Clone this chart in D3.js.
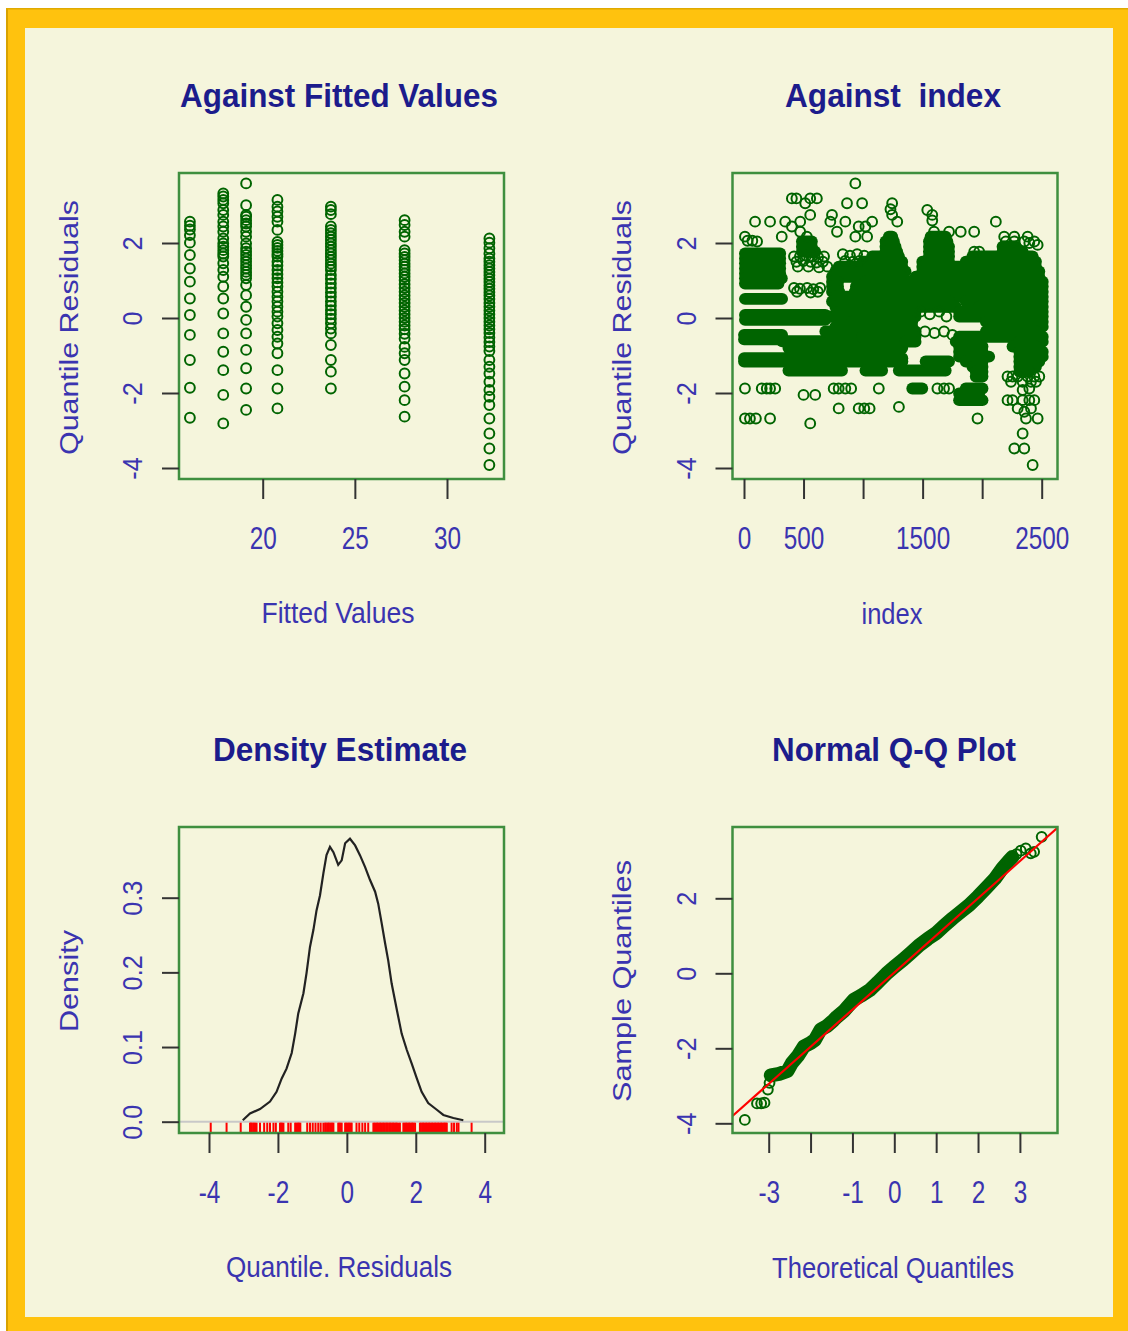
<!DOCTYPE html>
<html>
<head>
<meta charset="utf-8">
<script src="https://cdn.jsdelivr.net/npm/d3@7"></script>
<style>
  html, body { margin: 0; padding: 0; background: #ffffff; }
  svg { display: block; }
  text { white-space: pre; }
</style>
</head>
<body>
<svg id="chart" width="1128" height="1331"></svg>
<script>
// ---------- Residuals against fitted values (one column per fitted level) ----------
const fittedLevels = [16.05, 17.86, 19.1, 20.8, 23.7, 27.7, 32.3];
const residualsByLevel = [
  [2.57, 2.46, 2.36, 2.21, 2.01, 1.68, 1.32, 0.97, 0.52, 0.08, -0.45, -1.12, -1.86, -2.66],
  [3.32, 3.24, 3.15, 3.06, 2.88, 2.75, 2.57, 2.44, 2.30, 2.12, 1.99, 1.90, 1.81, 1.72, 1.64, 1.46, 1.28, 1.10, 0.84, 0.52, 0.12, -0.41, -0.90, -1.39, -2.05, -2.81],
  [3.59, 3.01, 2.75, 2.70, 2.61, 2.52, 2.44, 2.30, 2.17, 1.99, 1.86, 1.77, 1.68, 1.59, 1.50, 1.41, 1.32, 1.23, 1.15, 1.06, 0.88, 0.61, 0.30, -0.05, -0.41, -0.85, -1.34, -1.88, -2.45],
  [3.15, 2.97, 2.84, 2.70, 2.57, 2.35, 2.03, 1.95, 1.87, 1.79, 1.71, 1.64, 1.50, 1.40, 1.28, 1.17, 1.06, 0.95, 0.84, 0.70, 0.57, 0.44, 0.30, 0.17, 0.04, -0.14, -0.32, -0.50, -0.68, -0.94, -1.39, -1.88, -2.41],
  [2.97, 2.88, 2.77, 2.44, 2.35, 2.26, 2.17, 2.08, 1.99, 1.90, 1.81, 1.72, 1.63, 1.54, 1.45, 1.37, 1.28, 1.15, 1.04, 0.92, 0.80, 0.68, 0.57, 0.44, 0.33, 0.21, 0.10, -0.02, -0.14, -0.28, -0.41, -0.72, -1.12, -1.43, -1.88],
  [2.61, 2.48, 2.30, 2.17, 1.81, 1.72, 1.63, 1.54, 1.45, 1.37, 1.28, 1.19, 1.10, 1.01, 0.90, 0.80, 0.70, 0.60, 0.50, 0.40, 0.30, 0.20, 0.10, 0.00, -0.10, -0.20, -0.30, -0.42, -0.55, -0.77, -0.94, -1.12, -1.48, -1.83, -2.19, -2.63],
  [2.12, 2.01, 1.86, 1.72, 1.59, 1.50, 1.41, 1.32, 1.23, 1.14, 1.05, 0.96, 0.87, 0.78, 0.69, 0.60, 0.51, 0.40, 0.30, 0.20, 0.10, 0.00, -0.10, -0.20, -0.30, -0.40, -0.52, -0.64, -0.76, -0.88, -1.12, -1.30, -1.48, -1.70, -1.92, -2.10, -2.32, -2.68, -3.08, -3.48, -3.92]
];
const fittedTicks = [20, 25, 30];
const residTicks = [-4, -2, 0, 2];
const residTickLabels = ["-4", "-2", "0", "2"];

// ---------- Residuals against observation index ----------
// runs of consecutive observations sharing one residual value: [firstIndex, lastIndex, residual]
const indexRuns = [
  [8, 304, 1.72], [8, 304, 1.59], [8, 304, 1.46], [8, 304, 1.32], [8, 304, 1.19], [8, 318, 1.06], [8, 290, 0.92],
  [8, 320, 0.51],
  [8, 683, 0.08], [8, 683, -0.05],
  [0, 320, -0.45], [0, 320, -0.57], [320, 990, -0.62],
  [373, 1329, -0.80],
  [0, 1330, -1.07], [0, 1330, -1.16],
  [373, 823, -1.40], [1020, 1160, -1.40], [1300, 1694, -1.40],
  [486, 570, 2.04], [486, 570, 1.90], [486, 598, 1.77],
  [1216, 1245, 2.17], [1567, 1694, 2.17],
  [1188, 1259, 2.04], [1553, 1708, 2.04],
  [1188, 1273, 1.90], [1553, 1722, 1.90], [2171, 2284, 1.90],
  [1188, 1287, 1.77], [1553, 1722, 1.77], [2171, 2340, 1.77],
  [1076, 1301, 1.64], [1553, 1722, 1.64], [1918, 2424, 1.64],
  [1000, 1329, 1.50], [1497, 1722, 1.50], [1862, 2452, 1.50],
  [795, 1329, 1.37], [1497, 2452, 1.37],
  [767, 1357, 1.24], [1497, 2480, 1.24],
  [739, 1329, 1.10], [1441, 2480, 1.10],
  [739, 790, 0.97], [1020, 2509, 0.97],
  [739, 790, 0.84], [940, 2509, 0.84],
  [739, 800, 0.70], [930, 2509, 0.70],
  [767, 2509, 0.57],
  [739, 1722, 0.44], [1862, 2509, 0.44],
  [767, 1778, 0.30], [1975, 2509, 0.30],
  [795, 1441, 0.17], [1806, 2509, 0.17],
  [683, 1441, 0.04], [1806, 2509, 0.04],
  [907, 1413, -0.10], [2031, 2509, -0.10],
  [767, 1413, -0.23], [2087, 2509, -0.23],
  [683, 1441, -0.36], [2031, 2452, -0.36],
  [990, 1441, -0.50], [1806, 2509, -0.50],
  [1357, 1441, -0.63], [1778, 1947, -0.63], [2312, 2509, -0.63],
  [1806, 2003, -0.76], [2255, 2452, -0.76],
  [1806, 2003, -0.90], [2312, 2509, -0.90],
  [1806, 2059, -1.03], [2312, 2509, -1.03],
  [1525, 1722, -1.16], [1862, 2003, -1.16], [2312, 2480, -1.16],
  [1918, 2003, -1.30], [2312, 2452, -1.30],
  [1946, 2003, -1.43], [2312, 2396, -1.43],
  [1946, 2003, -1.56],
  [1413, 1497, -1.88], [1862, 2003, -1.88],
  [1806, 1975, -2.01],
  [1806, 2003, -2.19]
];
// isolated observations: [index, residual]
const indexPoints = [
  [935, 3.59], [402, 3.19], [440, 3.19], [556, 3.19], [612, 3.19], [514, 3.06], [865, 3.06], [992, 3.06], [1244, 3.06],
  [1230, 2.90], [1539, 2.88], [556, 2.75], [739, 2.75], [1244, 2.75], [1581, 2.75],
  [93, 2.57], [219, 2.57], [346, 2.57], [472, 2.57], [725, 2.57], [851, 2.57], [1076, 2.57], [1287, 2.57], [1581, 2.60], [2115, 2.57],
  [402, 2.44], [963, 2.44], [1020, 2.44], [472, 2.30], [781, 2.30], [1596, 2.30], [1722, 2.30], [1820, 2.30], [1933, 2.30],
  [8, 2.17], [317, 2.17], [528, 2.17], [935, 2.17], [1034, 2.17], [2185, 2.17], [2270, 2.17], [2382, 2.17],
  [30, 2.06], [70, 2.06], [110, 2.04], [2199, 2.04], [2270, 2.04], [2354, 2.04], [2396, 2.00], [2438, 2.04], [2466, 1.95],
  [1933, 1.77], [1975, 1.77],
  [420, 1.64], [470, 1.64], [522, 1.66], [575, 1.64], [622, 1.62], [672, 1.64], [830, 1.70], [890, 1.66], [950, 1.70], [1010, 1.66],
  [440, 1.50], [498, 1.52], [560, 1.50], [610, 1.48], [662, 1.50], [850, 1.52], [915, 1.50], [970, 1.52],
  [452, 1.37], [540, 1.37], [630, 1.35], [700, 1.37],
  [420, 0.80], [470, 0.78], [530, 0.80], [582, 0.77], [640, 0.80], [445, 0.70], [560, 0.68], [620, 0.70],
  [1483, 0.17], [1560, 0.10], [1640, 0.17], [1700, 0.04], [1520, -0.36], [1600, -0.40], [1680, -0.36], [1750, -0.45],
  [8, -1.88], [149, -1.88], [191, -1.88], [219, -1.88], [262, -1.88], [753, -1.88], [795, -1.88], [851, -1.88], [900, -1.88],
  [1132, -1.88], [1624, -1.88], [1680, -1.88], [1722, -1.88], [2340, -1.92], [2396, -1.88],
  [500, -2.05], [598, -2.05], [795, -2.41], [963, -2.41], [1010, -2.41], [1055, -2.41], [1301, -2.37],
  [8, -2.68], [50, -2.68], [100, -2.68], [219, -2.68], [556, -2.81], [1961, -2.68],
  [2213, -2.19], [2255, -2.19], [2340, -2.19], [2396, -2.19], [2438, -2.19],
  [2298, -2.41], [2354, -2.50], [2410, -2.41], [2466, -2.68], [2368, -2.68], [2340, -3.08], [2270, -3.48], [2354, -3.48], [2424, -3.92],
  [2213, -1.56], [2255, -1.56], [2298, -1.56], [2382, -1.56], [2438, -1.56], [2480, -1.56],
  [2242, -1.70], [2340, -1.70], [2410, -1.70], [2452, -1.70]
];
const indexTicks = [0, 500, 1000, 1500, 2000, 2500];
const indexTickLabels = ["0", "500", "", "1500", "", "2500"];

// ---------- Density estimate of the residuals ----------
const densityX = [-3.02, -2.81, -2.52, -2.23, -2.04, -1.89, -1.75, -1.60, -1.50, -1.41, -1.26, -1.17, -1.07, -0.97, -0.88, -0.78, -0.68, -0.59, -0.49, -0.39, -0.25, -0.15, -0.05, 0.09, 0.24, 0.38, 0.53, 0.67, 0.82, 0.91, 1.01, 1.11, 1.20, 1.30, 1.45, 1.59, 1.74, 1.88, 2.03, 2.17, 2.36, 2.61, 2.80, 3.09, 3.38];
const densityY = [0.002, 0.011, 0.017, 0.027, 0.040, 0.058, 0.071, 0.092, 0.118, 0.145, 0.172, 0.199, 0.234, 0.257, 0.283, 0.303, 0.333, 0.357, 0.368, 0.361, 0.344, 0.350, 0.373, 0.379, 0.370, 0.357, 0.341, 0.324, 0.308, 0.292, 0.266, 0.239, 0.216, 0.185, 0.150, 0.118, 0.096, 0.078, 0.058, 0.040, 0.025, 0.016, 0.009, 0.005, 0.002];
const rugValues = [
  -3.95, -3.49, -3.08, -2.81, -2.78, -2.76, -2.72, -2.69, -2.66, -2.62, -2.52, -2.40, -2.31, -2.23, -2.13, -2.06,
  -1.94, -1.91, -1.88, -1.84, -1.70, -1.63, -1.50, -1.47, -1.43, -1.41, -1.38, -1.35,
  -1.15, -1.07, -0.99, -0.91, -0.83, -0.76, -0.68, -0.63, -0.61, -0.57, -0.54, -0.52, -0.48, -0.45, -0.42, -0.39,
  -0.25, -0.22, -0.19, -0.15, -0.05, -0.02, 0.01, 0.05, 0.07, 0.11, 0.14, 0.28, 0.36, 0.45, 0.53, 0.62,
  0.77, 0.80, 0.83, 0.87, 0.89, 0.92, 0.96, 0.98, 1.01, 1.05, 1.07, 1.10, 1.14, 1.16, 1.19, 1.23, 1.25, 1.28, 1.32, 1.34, 1.37, 1.41, 1.43, 1.46, 1.50, 1.54,
  1.64, 1.67, 1.71, 1.73, 1.76, 1.80, 1.82, 1.85, 1.89, 1.91, 1.94, 1.98,
  2.12, 2.15, 2.19, 2.21, 2.24, 2.28, 2.30, 2.33, 2.37, 2.39, 2.42, 2.46, 2.48, 2.51, 2.55, 2.57, 2.60, 2.64, 2.66, 2.69, 2.73, 2.75, 2.78, 2.82, 2.84, 2.87, 2.90,
  3.04, 3.11, 3.19, 3.24, 3.62
];
const densityXTicks = [-4, -2, 0, 2, 4];
const densityXTickLabels = ["-4", "-2", "0", "2", "4"];
const densityYTicks = [0, 0.1, 0.2, 0.3];
const densityYTickLabels = ["0.0", "0.1", "0.2", "0.3"];

// ---------- Normal Q-Q plot ----------
// bulk of the ordered residuals: [theoretical quantile, sample quantile]
const qqBulk = [
  [-2.95, -2.72], [-2.75, -2.68], [-2.55, -2.60], [-2.45, -2.40], [-2.30, -2.20], [-2.16, -1.95], [-2.00, -1.86], [-1.90, -1.78],
  [-1.76, -1.50], [-1.60, -1.40], [-1.45, -1.25], [-1.37, -1.16], [-1.20, -1.00], [-0.97, -0.71], [-0.80, -0.60], [-0.58, -0.44],
  [-0.40, -0.25], [-0.18, 0.00], [0.00, 0.17], [0.21, 0.36], [0.40, 0.55], [0.61, 0.76], [0.80, 0.92], [1.00, 1.07], [1.20, 1.28],
  [1.40, 1.47], [1.60, 1.65], [1.79, 1.82], [2.00, 2.05], [2.19, 2.27], [2.40, 2.52], [2.58, 2.80], [2.72, 2.98], [2.82, 3.10]
];
// sparse extremes: [theoretical quantile, sample quantile]
const qqTails = [
  [-3.57, -3.91], [-3.28, -3.47], [-3.18, -3.47], [-3.10, -3.45], [-3.02, -3.10], [-2.98, -2.92],
  [2.92, 3.18], [3.02, 3.27], [3.14, 3.33], [3.26, 3.20], [3.34, 3.24], [3.52, 3.64]
];
const qqLineCoef = [0.02, 0.99]; // intercept, slope
const qqTicks = [-3, -2, -1, 0, 1, 2, 3];
const qqTickLabels = ["-3", "", "-1", "0", "1", "2", "3"];

// ---------- drawing ----------
const FONT = "'Liberation Sans', Arial, Helvetica, sans-serif";
const TITLE_COL = "#1c1c8c";
const LABEL_COL = "#3a34b0";
const PT_COL = "#006400";
const FRAME_COL = "#3f8f3f";
const PT_R = 4.9, PT_W = 2, BAND_W = 11.8;

const svg = d3.select("#chart");
svg.append("rect").attr("x", 6).attr("y", 8).attr("width", 1122).attr("height", 1323).attr("fill", "#ffc20e");
svg.append("rect").attr("x", 6).attr("y", 8).attr("width", 2).attr("height", 1323).attr("fill", "#d8a200");
svg.append("rect").attr("x", 6).attr("y", 8).attr("width", 1122).attr("height", 1.5).attr("fill", "#e0aa00");
svg.append("rect").attr("x", 25).attr("y", 28).attr("width", 1088).attr("height", 1289).attr("fill", "#f5f5dc");

const boxes = {
  fit:  {left: 179,   right: 504,    top: 173, bottom: 479},
  idx:  {left: 732.5, right: 1057.5, top: 173, bottom: 479},
  dens: {left: 179,   right: 504,    top: 827, bottom: 1133},
  qq:   {left: 732.5, right: 1057.5, top: 827, bottom: 1133}
};

function squeeze(sel, k) {
  sel.each(function () {
    const len = this.getComputedTextLength();
    if (len > 0) d3.select(this).attr("textLength", len * k).attr("lengthAdjust", "spacingAndGlyphs");
  });
}

function fitLength(sel, len) {
  sel.attr("textLength", len).attr("lengthAdjust", "spacingAndGlyphs");
}

function frame(box, id) {
  svg.append("clipPath").attr("id", id).append("rect")
    .attr("x", box.left).attr("y", box.top)
    .attr("width", box.right - box.left).attr("height", box.bottom - box.top);
  return svg.append("g").attr("clip-path", `url(#${id})`);
}

function drawFrame(box) {
  svg.append("rect")
    .attr("x", box.left).attr("y", box.top)
    .attr("width", box.right - box.left).attr("height", box.bottom - box.top)
    .attr("fill", "none").attr("stroke", FRAME_COL).attr("stroke-width", 2.5);
}

function bottomAxis(scale, box, ticks, labels) {
  const ax = d3.axisBottom(scale).tickValues(ticks).tickSize(20).tickSizeOuter(0)
    .tickFormat((d, i) => labels[i]);
  const g = svg.append("g").attr("transform", `translate(0,${box.bottom})`).call(ax);
  g.select(".domain").remove();
  g.selectAll(".tick line").attr("stroke", "#333").attr("stroke-width", 2);
  const t = g.selectAll(".tick text")
    .attr("y", 70).attr("dy", null)
    .attr("fill", LABEL_COL).attr("font-size", 32).attr("font-family", FONT);
  squeeze(t, 0.76);
}

function leftAxis(scale, box, ticks, labels) {
  const ax = d3.axisLeft(scale).tickValues(ticks).tickSize(17).tickSizeOuter(0)
    .tickFormat((d, i) => labels[i]);
  const g = svg.append("g").attr("transform", `translate(${box.left},0)`).call(ax);
  g.select(".domain").remove();
  g.selectAll(".tick line").attr("stroke", "#333").attr("stroke-width", 2);
  const t = g.selectAll(".tick text")
    .attr("x", 0).attr("y", -37).attr("dy", null)
    .attr("text-anchor", "middle").attr("transform", "rotate(-90)")
    .attr("fill", LABEL_COL).attr("font-size", 28).attr("font-family", FONT);
  squeeze(t, 0.9);
}

function title(text, cx, baseline, len) {
  const t = svg.append("text").attr("x", cx).attr("y", baseline)
    .attr("text-anchor", "middle").attr("font-family", FONT).attr("font-weight", "bold")
    .attr("font-size", 34).attr("fill", TITLE_COL).text(text);
  fitLength(t, len);
}

function xTitle(text, cx, baseline, len) {
  const t = svg.append("text").attr("x", cx).attr("y", baseline)
    .attr("text-anchor", "middle").attr("font-family", FONT)
    .attr("font-size", 30).attr("fill", LABEL_COL).text(text);
  fitLength(t, len);
}

function yTitle(text, baseX, cy, len) {
  const t = svg.append("text").attr("transform", `translate(${baseX},${cy}) rotate(-90)`)
    .attr("text-anchor", "middle").attr("font-family", FONT)
    .attr("font-size", 26).attr("fill", LABEL_COL).text(text);
  fitLength(t, len);
}

function circles(g, data, x, y) {
  g.selectAll("circle.pt").data(data).join("circle").attr("class", "pt")
    .attr("cx", d => x(d[0])).attr("cy", d => y(d[1])).attr("r", PT_R)
    .attr("fill", "none").attr("stroke", PT_COL).attr("stroke-width", PT_W);
}

// ---- Panel: against fitted values ----
{
  const box = boxes.fit;
  const x = d3.scaleLinear().domain([20, 30]).range([262.7, 447]);
  const y = d3.scaleLinear().domain([-4, 2]).range([468, 243]);
  const g = frame(box, "clip-fit");
  const pts = fittedLevels.flatMap((f, i) => residualsByLevel[i].map(r => [f, r]));
  circles(g, pts, x, y);
  drawFrame(box);
  bottomAxis(x, box, fittedTicks, fittedTicks.map(String));
  leftAxis(y, box, residTicks, residTickLabels);
  title("Against Fitted Values", 339, 107, 318);
  xTitle("Fitted Values", 338, 623, 153);
  yTitle("Quantile Residuals", 77.5, 327.5, 255);
}

// ---- Panel: against index ----
{
  const box = boxes.idx;
  const x = d3.scaleLinear().domain([0, 2500]).range([744, 1041.7]);
  const y = d3.scaleLinear().domain([-4, 2]).range([468, 243]);
  const g = frame(box, "clip-idx");
  g.selectAll("line.run").data(indexRuns).join("line").attr("class", "run")
    .attr("x1", d => x(d[0])).attr("x2", d => x(d[1]))
    .attr("y1", d => y(d[2])).attr("y2", d => y(d[2]))
    .attr("stroke", PT_COL).attr("stroke-width", BAND_W).attr("stroke-linecap", "round");
  circles(g, indexPoints, x, y);
  drawFrame(box);
  bottomAxis(x, box, indexTicks, indexTickLabels);
  leftAxis(y, box, residTicks, residTickLabels);
  title("Against  index", 893, 107, 216);
  xTitle("index", 892, 624, 61);
  yTitle("Quantile Residuals", 631, 327.5, 255);
}

// ---- Panel: density estimate ----
{
  const box = boxes.dens;
  const x = d3.scaleLinear().domain([-4, 4]).range([209, 484.7]);
  const y = d3.scaleLinear().domain([0, 0.3]).range([1121.7, 897.7]);
  const g = frame(box, "clip-dens");
  g.append("line").attr("x1", box.left).attr("x2", box.right)
    .attr("y1", y(0)).attr("y2", y(0)).attr("stroke", "#c8c8c8").attr("stroke-width", 2);
  g.selectAll("line.rug").data(rugValues).join("line").attr("class", "rug")
    .attr("x1", d => x(d)).attr("x2", d => x(d))
    .attr("y1", box.bottom).attr("y2", y(0) + 1)
    .attr("stroke", "#ff0000").attr("stroke-width", 2);
  const curve = densityX.map((v, i) => [v, densityY[i]]);
  g.append("path").datum(curve)
    .attr("d", d3.line().x(d => x(d[0])).y(d => y(d[1])))
    .attr("fill", "none").attr("stroke", "#222").attr("stroke-width", 2.2);
  drawFrame(box);
  bottomAxis(x, box, densityXTicks, densityXTickLabels);
  leftAxis(y, box, densityYTicks, densityYTickLabels);
  title("Density Estimate", 340, 761, 254);
  xTitle("Quantile. Residuals", 339, 1277, 226);
  yTitle("Density", 78, 981, 102);
}

// ---- Panel: normal Q-Q plot ----
{
  const box = boxes.qq;
  const x = d3.scaleLinear().domain([-3, 3]).range([768.7, 1019.9]);
  const y = d3.scaleLinear().domain([-4, 2]).range([1123.3, 898.3]);
  const g = frame(box, "clip-qq");
  g.append("path").datum(qqBulk)
    .attr("d", d3.line().x(d => x(d[0])).y(d => y(d[1])))
    .attr("fill", "none").attr("stroke", PT_COL).attr("stroke-width", 14)
    .attr("stroke-linecap", "round").attr("stroke-linejoin", "round");
  circles(g, qqBulk.concat(qqTails), x, y);
  const xd = x.invert(box.left), xe = x.invert(box.right);
  g.append("line")
    .attr("x1", x(xd)).attr("y1", y(qqLineCoef[0] + qqLineCoef[1] * xd))
    .attr("x2", x(xe)).attr("y2", y(qqLineCoef[0] + qqLineCoef[1] * xe))
    .attr("stroke", "#ff0000").attr("stroke-width", 2.2);
  drawFrame(box);
  bottomAxis(x, box, qqTicks, qqTickLabels);
  leftAxis(y, box, residTicks, residTickLabels);
  title("Normal Q-Q Plot", 894, 761, 244);
  xTitle("Theoretical Quantiles", 893, 1278, 242);
  yTitle("Sample Quantiles", 631, 981, 242);
}
</script>
</body>
</html>
